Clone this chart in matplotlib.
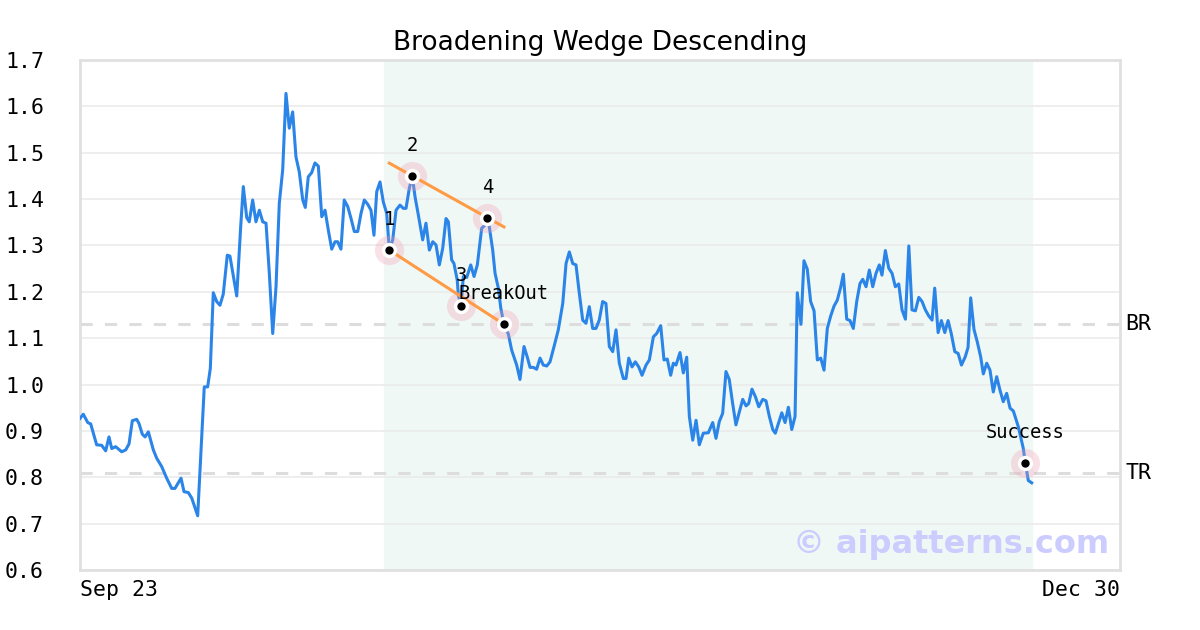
import numpy as np
import pandas as pd
import matplotlib
matplotlib.use("Agg")
import matplotlib.pyplot as plt
import matplotlib.dates as mdates
import matplotlib.transforms as mtransforms

# price series, day offsets from Sep 23
start = pd.Timestamp("2024-09-23")
end = pd.Timestamp("2024-12-30")

days = [0, 0.31, 0.73, 1.01, 1.57, 2.04, 2.42, 2.73, 2.99, 3.36,
        3.93, 4.31, 4.62, 4.93, 5.34, 5.56, 5.87, 6.13, 6.44, 6.91,
        7.23, 7.70, 8.17, 8.64, 8.95, 9.52, 9.80, 10.21, 10.53, 11.09,
        11.71, 12.03, 12.28, 12.56, 12.88, 13.19, 13.50, 13.88, 14.13, 14.77,
        15.14, 15.39, 15.71, 15.95, 16.27, 16.58, 16.90, 17.22, 17.53, 17.84,
        18.16, 18.47, 18.78, 19.10, 19.41, 19.72, 20.04, 20.35, 20.66, 20.99,
        21.23, 21.51, 21.83, 22.14, 22.46, 22.78, 23.09, 23.40, 23.72, 24.03,
        24.28, 24.59, 24.90, 25.23, 25.54, 25.85, 26.17, 26.48, 26.79, 27.11,
        27.42, 27.70, 27.96, 28.27, 28.58, 28.90, 29.15, 29.47, 29.78, 30.15,
        30.47, 30.72, 31.03, 31.31, 31.57, 31.88, 32.29, 32.60, 32.92, 33.24,
        33.55, 33.86, 34.18, 34.49, 34.71, 35.02, 35.24, 35.55, 35.65, 35.91,
        36.12, 36.44, 36.82, 37.13, 37.44, 37.85, 38.16, 38.38, 38.57, 38.89,
        39.11, 39.42, 39.65, 39.95, 40.36, 40.68, 41.15, 41.46, 41.84, 42.15,
        42.41, 42.72, 43.03, 43.35, 43.66, 43.98, 44.29, 44.67, 45.07, 45.49,
        45.80, 46.11, 46.43, 46.74, 47.05, 47.37, 47.68, 47.99, 48.31, 48.62,
        48.93, 49.25, 49.56, 49.88, 50.20, 50.51, 50.82, 51.20, 51.45, 51.71,
        52.02, 52.33, 52.65, 52.96, 53.34, 53.65, 54.03, 54.34, 54.72, 55.03,
        55.34, 55.66, 55.91, 56.16, 56.54, 56.85, 57.17, 57.42, 57.74, 58.05,
        58.36, 58.73, 59.21, 59.62, 59.93, 60.24, 60.56, 60.87, 61.18, 61.50,
        61.81, 62.13, 62.45, 62.76, 63.01, 63.32, 63.64, 63.96, 64.33, 64.64,
        64.96, 65.28, 65.52, 65.84, 66.13, 66.44, 66.75, 67.07, 67.38, 67.59,
        67.94, 68.22, 68.53, 68.85, 69.17, 69.48, 69.80, 70.11, 70.42, 70.74,
        71.05, 71.36, 71.68, 71.93, 72.25, 72.56, 72.87, 73.19, 73.50, 73.76,
        74.07, 74.38, 74.70, 75.01, 75.32, 75.57, 75.89, 76.21, 76.52, 76.83,
        77.15, 77.46, 77.78, 78.10, 78.40, 78.72, 79.04, 79.35, 79.66, 79.98,
        80.29, 80.54, 80.86, 81.17, 81.49, 81.80, 82.11, 82.43, 82.75, 83.06,
        83.42, 83.68, 83.93, 84.24, 84.55, 84.87, 85.12, 85.44, 85.75, 86.06,
        86.38, 86.69, 87.00, 87.32, 87.64, 87.95, 88.42, 88.89, 89.08, 89.36, 89.68]

prices = [0.927, 0.936, 0.918, 0.915, 0.870, 0.869, 0.857, 0.887, 0.862, 0.866,
          0.855, 0.859, 0.872, 0.922, 0.925, 0.916, 0.893, 0.887, 0.898, 0.859,
          0.841, 0.823, 0.798, 0.776, 0.776, 0.798, 0.769, 0.767, 0.755, 0.717,
          0.995, 0.995, 1.035, 1.198, 1.179, 1.171, 1.195, 1.279, 1.277, 1.191,
          1.340, 1.427, 1.360, 1.351, 1.398, 1.351, 1.376, 1.351, 1.348, 1.240,
          1.110, 1.211, 1.391, 1.463, 1.628, 1.553, 1.588, 1.491, 1.459, 1.398,
          1.382, 1.448, 1.457, 1.478, 1.471, 1.362, 1.376, 1.333, 1.292, 1.308,
          1.308, 1.292, 1.398, 1.384, 1.358, 1.330, 1.330, 1.369, 1.398, 1.389,
          1.376, 1.322, 1.416, 1.437, 1.394, 1.369, 1.290, 1.312, 1.376, 1.387,
          1.380, 1.380, 1.423, 1.450, 1.405, 1.366, 1.312, 1.348, 1.290, 1.308,
          1.301, 1.258, 1.294, 1.358, 1.351, 1.269, 1.261, 1.225, 1.193, 1.170,
          1.233, 1.231, 1.258, 1.233, 1.258, 1.337, 1.344, 1.360, 1.340, 1.290,
          1.240, 1.208, 1.165, 1.130, 1.109, 1.074, 1.042, 1.011, 1.082, 1.059,
          1.037, 1.037, 1.033, 1.057, 1.042, 1.040, 1.049, 1.082, 1.118, 1.175,
          1.261, 1.286, 1.261, 1.258, 1.197, 1.139, 1.132, 1.168, 1.121, 1.121,
          1.139, 1.179, 1.175, 1.082, 1.071, 1.118, 1.046, 1.013, 1.013, 1.057,
          1.038, 1.049, 1.038, 1.020, 1.042, 1.053, 1.103, 1.110, 1.127, 1.053,
          1.055, 1.020, 1.046, 1.042, 1.069, 1.025, 1.059, 0.931, 0.880, 0.923,
          0.870, 0.895, 0.896, 0.918, 0.884, 0.920, 0.938, 1.028, 1.011, 0.959,
          0.913, 0.941, 0.968, 0.954, 0.959, 0.990, 0.974, 0.952, 0.968, 0.965,
          0.931, 0.903, 0.895, 0.918, 0.939, 0.918, 0.951, 0.903, 0.931, 1.198,
          1.130, 1.267, 1.249, 1.179, 1.159, 1.053, 1.057, 1.031, 1.121, 1.148,
          1.169, 1.182, 1.210, 1.238, 1.141, 1.138, 1.121, 1.179, 1.218, 1.227,
          1.211, 1.247, 1.211, 1.240, 1.258, 1.236, 1.289, 1.251, 1.240, 1.211,
          1.217, 1.161, 1.141, 1.299, 1.161, 1.159, 1.188, 1.179, 1.161, 1.148,
          1.139, 1.208, 1.112, 1.138, 1.112, 1.138, 1.109, 1.071, 1.067, 1.042,
          1.060, 1.080, 1.187, 1.119, 1.092, 1.060, 1.023, 1.046, 1.031, 0.984,
          1.017, 0.988, 0.963, 0.981, 0.949, 0.943, 0.909, 0.862, 0.830, 0.793, 0.788]

# pattern points
pt_labels = ["1", "2", "3", "4", "BreakOut", "Success"]
pt_days = [29.15, 31.31, 35.91, 38.38, 39.95, 89.08]
pt_prices = [1.29, 1.45, 1.17, 1.36, 1.13, 0.83]

br_level = 1.13
tr_level = 0.81
shade_days = [28.6, 89.68]

to_date = lambda d: start + pd.to_timedelta(np.asarray(d, dtype=float), unit="D")
x = to_date(days)
px = to_date(pt_days)

fig = plt.figure(figsize=(12, 6.3), dpi=100)
ax = fig.add_axes([80 / 1200, 60 / 630, 1040 / 1200, 510 / 630])

ax.axvspan(to_date(shade_days[0]), to_date(shade_days[1]), color="#f0f8f5", zorder=0)
ax.set_yticks(np.arange(0.6, 1.71, 0.1))
ax.grid(axis="y", color="#ebebeb", lw=1.2, zorder=1)
ax.grid(axis="x", visible=False)

for lvl in (br_level, tr_level):
    ax.axhline(lvl, color="#dddddd", lw=2.2, ls=(0, (4, 4)), zorder=1.5)

ax.plot(x, prices, color="#2b85e8", lw=2.2, zorder=3)

# wedge lines: lower 1 -> breakout, upper through 2 and 4
ax.plot([px[0], px[4]], [pt_prices[0], pt_prices[4]], color="#ff9a45", lw=2.2, zorder=4)
slope = (pt_prices[3] - pt_prices[1]) / (pt_days[3] - pt_days[1])
up_ends = [pt_prices[1] + slope * (pt_days[i] - pt_days[1]) for i in (0, 4)]
ax.plot([px[0], px[4]], up_ends, color="#ff9a45", lw=2.2, zorder=4)

ax.plot(px, pt_prices, "o", ms=21, color="#f09bb2", alpha=0.3, mec="none", zorder=3.5)
ax.plot(px, pt_prices, "o", ms=11, color="white", mec="none", zorder=5)
ax.plot(px, pt_prices, "o", ms=6, color="black", mec="none", zorder=6)

for lab, d, p in zip(pt_labels, px, pt_prices):
    ax.annotate(lab, (d, p), xytext=(0, 22), textcoords="offset points",
                ha="center", va="center", family="DejaVu Sans Mono", fontsize=13.5, zorder=7)

trans = mtransforms.blended_transform_factory(ax.transAxes, ax.transData)
ax.text(1.005, br_level, "BR", transform=trans, ha="left", va="center",
        family="DejaVu Sans Mono", fontsize=15.5)
ax.text(1.005, tr_level, "TR", transform=trans, ha="left", va="center",
        family="DejaVu Sans Mono", fontsize=15.5)

ax.text(0.99, 0.033, "© aipatterns.com", transform=ax.transAxes, ha="right", va="baseline",
        fontsize=23, fontweight="bold", color="#ccccff", zorder=8)

ax.set_xlim(start, end)
ax.set_ylim(0.6, 1.7)
ax.set_xticks([start, end])
ax.xaxis.set_major_formatter(mdates.DateFormatter("%b %d"))
ax.tick_params(axis="both", length=0, labelsize=15.5)
ax.tick_params(axis="y", pad=26)
ax.tick_params(axis="x", pad=7)
for t in ax.get_xticklabels() + ax.get_yticklabels():
    t.set_family("DejaVu Sans Mono")
xl = ax.get_xticklabels()
xl[0].set_ha("left")
xl[1].set_ha("right")

for s in ax.spines.values():
    s.set_color("#e0e0e0")
    s.set_linewidth(2)

ax.set_title("Broadening Wedge Descending", fontsize=19, pad=7)

fig.savefig("out.png", dpi=100)
